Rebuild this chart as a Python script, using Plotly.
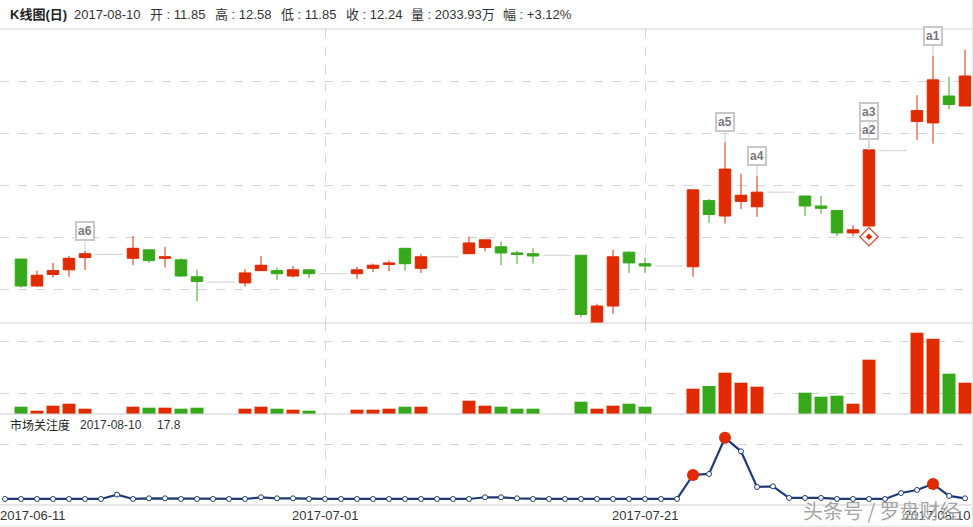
#!/usr/bin/env python3
"""K-line chart with volume and market attention panels, 2017-06-11 to 2017-08-10."""

import pandas as pd
import plotly.graph_objects as go

WIDTH = 973
HEIGHT = 527

RED = "#e02a00"
GREEN = "#36a81a"
NAVY = "#1f3a78"
GRID = "#d4d4d4"
BORDER = "#cfcfcf"
CJK = "Liberation Sans, Noto Sans CJK SC"

# trading days
dates = [
    "2017-06-12", "2017-06-13", "2017-06-14", "2017-06-15", "2017-06-16",
    "2017-06-19", "2017-06-20", "2017-06-21", "2017-06-22", "2017-06-23",
    "2017-06-26", "2017-06-27", "2017-06-28", "2017-06-29", "2017-06-30",
    "2017-07-03", "2017-07-04", "2017-07-05", "2017-07-06", "2017-07-07",
    "2017-07-10", "2017-07-11", "2017-07-12", "2017-07-13", "2017-07-14",
    "2017-07-17", "2017-07-18", "2017-07-19", "2017-07-20", "2017-07-21",
    "2017-07-24", "2017-07-25", "2017-07-26", "2017-07-27", "2017-07-28",
    "2017-07-31", "2017-08-01", "2017-08-02", "2017-08-03", "2017-08-04",
    "2017-08-07", "2017-08-08", "2017-08-09", "2017-08-10",
]
opens = [
    9.86, 9.51, 9.66, 9.72, 9.88,
    9.87, 9.98, 9.87, 9.85, 9.63,
    9.55, 9.71, 9.71, 9.64, 9.72,
    9.67, 9.74, 9.79, 10.00, 9.74,
    9.93, 10.01, 10.02, 9.94, 9.93,
    9.91, 9.03, 9.25, 9.95, 9.80,
    9.76, 10.62, 10.42, 10.61, 10.54,
    10.68, 10.55, 10.49, 10.20, 10.29,
    11.65, 11.63, 11.98, 11.85,
]
closes = [
    9.51, 9.65, 9.71, 9.87, 9.93,
    10.00, 9.84, 9.89, 9.64, 9.57,
    9.68, 9.78, 9.67, 9.72, 9.67,
    9.72, 9.78, 9.81, 9.80, 9.89,
    10.07, 10.11, 9.94, 9.92, 9.90,
    9.14, 9.25, 9.89, 9.81, 9.77,
    10.76, 10.44, 11.03, 10.69, 10.73,
    10.55, 10.52, 10.20, 10.24, 11.28,
    11.79, 12.19, 11.87, 12.24,
]
highs = [
    9.86, 9.71, 9.81, 9.90, 9.97,
    10.16, 9.98, 10.02, 9.87, 9.72,
    9.73, 9.90, 9.75, 9.77, 9.72,
    9.76, 9.80, 9.84, 10.00, 9.93,
    10.15, 10.11, 10.09, 9.97, 10.00,
    9.91, 9.28, 9.98, 9.96, 9.88,
    10.76, 10.64, 11.38, 10.97, 10.94,
    10.68, 10.68, 10.49, 10.30, 11.28,
    11.99, 12.50, 12.23, 12.58,
]
lows = [
    9.49, 9.50, 9.62, 9.63, 9.72,
    9.78, 9.81, 9.75, 9.63, 9.31,
    9.50, 9.71, 9.59, 9.62, 9.61,
    9.60, 9.69, 9.70, 9.71, 9.68,
    9.93, 9.96, 9.78, 9.80, 9.80,
    9.10, 9.03, 9.15, 9.68, 9.68,
    9.63, 10.33, 10.32, 10.51, 10.41,
    10.42, 10.45, 10.16, 10.16, 10.29,
    11.41, 11.36, 11.81, 11.85,
]
volumes = [
    475, 215, 540, 670, 345,
    475, 410, 410, 345, 410,
    345, 475, 345, 280, 215,
    280, 280, 345, 475, 475,
    865, 540, 475, 345, 345,
    800, 345, 540, 670, 475,
    1645, 1820, 2685, 2034, 1775,
    1385, 1125, 1190, 670, 3530,
    5285, 4895, 2620, 2034,
]

# non trading days, drawn flat at the previous close
gap_dates = [
    ["2017-06-17", "2017-06-18"], ["2017-06-24", "2017-06-25"],
    ["2017-07-01", "2017-07-02"], ["2017-07-08", "2017-07-09"],
    ["2017-07-15", "2017-07-16"], ["2017-07-22", "2017-07-23"],
    ["2017-07-29", "2017-07-30"], ["2017-08-05", "2017-08-06"],
]
gap_prices = [9.92, 9.56, 9.67, 9.89, 9.91, 9.77, 10.73, 11.27]

# market attention, every calendar day from 2017-06-11
attention = [
    16.9, 16.9, 16.9, 16.9, 16.9, 16.9, 16.9, 22.8, 16.9, 17.8,
    17.8, 16.9, 16.9, 16.9, 16.9, 16.9, 19.2, 17.8, 17.8, 16.9,
    16.9, 16.9, 16.9, 16.9, 16.9, 16.9, 16.9, 16.9, 16.9, 16.9,
    19.2, 19.2, 17.8, 16.9, 16.9, 16.9, 16.9, 16.9, 16.9, 16.9,
    16.9, 16.9, 16.9, 49.5, 50.9, 100.0, 81.7, 33.2, 34.1, 18.3,
    18.3, 18.3, 16.9, 16.9, 16.9, 16.9, 25.0, 29.1, 37.3, 21.0,
    17.8,
]
attention_dates = pd.date_range("2017-06-11", "2017-08-10").strftime("%Y-%m-%d").tolist()
attention_marked = ["2017-07-24", "2017-07-26", "2017-08-08"]

# labels on the candles
signal_names = ["a1", "a2", "a3", "a4", "a5", "a6"]
signal_dates = ["2017-08-08", "2017-08-04", "2017-08-04", "2017-07-28", "2017-07-26", "2017-06-16"]
diamond_date = "2017-08-04"
diamond_price = 10.15

x_tick_dates = ["2017-07-01", "2017-07-21"]
x_labels = ["2017-06-11", "2017-07-01", "2017-07-21", "2017-08-10"]


def px_to_date(px):
    # x axis runs 16 px per day with 2017-06-11 at x=5
    return pd.Timestamp("2017-06-11") + pd.Timedelta(days=(px - 5) / 16)


def y_domain(top, bottom):
    return [1 - bottom / HEIGHT, 1 - top / HEIGHT]


def header_text(fig, x, y, text, size=13, color="#333333"):
    # annotations carry about 2 px of padding on the left
    fig.add_annotation(
        xref="paper", yref="paper", x=(x - 2) / WIDTH, y=1 - y / HEIGHT,
        text=text, showarrow=False, xanchor="left", yanchor="middle",
        font=dict(family=CJK, size=size, color=color),
    )


fig = go.Figure()

fig.add_trace(go.Candlestick(
    x=dates, open=opens, high=highs, low=lows, close=closes,
    increasing=dict(line=dict(color=RED, width=1), fillcolor=RED),
    decreasing=dict(line=dict(color=GREEN, width=1), fillcolor=GREEN),
    whiskerwidth=0, xaxis="x", yaxis="y",
))

for days, price in zip(gap_dates, gap_prices):
    # stretch the flat line out towards the neighbouring candles
    fig.add_trace(go.Scatter(
        x=[pd.Timestamp(days[0]) - pd.Timedelta(hours=9), pd.Timestamp(days[1]) + pd.Timedelta(hours=9)],
        y=[price, price], mode="lines", line=dict(color="#d0d0d0", width=1),
        xaxis="x", yaxis="y",
    ))

fig.add_trace(go.Scatter(
    x=[diamond_date], y=[diamond_price], mode="markers",
    marker=dict(symbol="diamond-open", size=14, color="#e0402a", line=dict(width=1.2)),
    xaxis="x", yaxis="y",
))
fig.add_trace(go.Scatter(
    x=[diamond_date], y=[diamond_price], mode="markers",
    marker=dict(symbol="diamond", size=5, color="#e02a00"),
    xaxis="x", yaxis="y",
))

fig.add_trace(go.Bar(
    x=dates, y=volumes,
    marker=dict(color=[RED if c >= o else GREEN for o, c in zip(opens, closes)], line_width=0),
    xaxis="x", yaxis="y2",
))

fig.add_trace(go.Scatter(
    x=attention_dates, y=attention, mode="lines+markers",
    line=dict(color=NAVY, width=2.2),
    marker=dict(size=5, color="white", line=dict(color=NAVY, width=1)),
    xaxis="x", yaxis="y3",
))
fig.add_trace(go.Scatter(
    x=attention_marked,
    y=[attention[attention_dates.index(d)] for d in attention_marked],
    mode="markers", marker=dict(size=12, color=RED),
    xaxis="x", yaxis="y3",
))

# labels sit on a short stem above the candle high
stems = {"a3": -38}
for name, day in zip(signal_names, signal_dates):
    fig.add_annotation(
        x=day, y=highs[dates.index(day)], xref="x", yref="y", text=f"<b>{name}</b>",
        showarrow=True, arrowhead=0, arrowcolor="#cccccc", arrowwidth=1,
        ax=0, ay=stems.get(name, -20),
        bgcolor="white", bordercolor="#c8c8c8", borderwidth=2, borderpad=1,
        font=dict(family="Liberation Sans", size=12, color="#777777"),
    )

header_text(fig, 10, 14, "<b>K线图(日)</b>", color="#222222")
header_text(fig, 74, 14, "2017-08-10")
header_text(fig, 150, 14, "开 : 11.85")
header_text(fig, 215, 14, "高 : 12.58")
header_text(fig, 281, 14, "低 : 11.85")
header_text(fig, 346, 14, "收 : 12.24")
header_text(fig, 411, 14, "量 : 2033.93万")
header_text(fig, 503, 14, "幅 : +3.12%")
header_text(fig, 10, 425, "市场关注度", size=12, color="#222222")
header_text(fig, 80, 425, "2017-08-10", size=12)
header_text(fig, 157, 425, "17.8", size=12)

for i, label in enumerate(x_labels):
    if i == 0:
        x, xref, anchor = -2 / WIDTH, "paper", "left"
    elif i == len(x_labels) - 1:
        x, xref, anchor = 1, "paper", "right"
    else:
        x, xref, anchor = label, "x", "center"
    fig.add_annotation(
        x=x, xref=xref, y=1 - 515 / HEIGHT, yref="paper", text=label, showarrow=False,
        xanchor=anchor, yanchor="middle",
        font=dict(family=CJK, size=13, color="#333333"),
    )

# watermark over the last date label
fig.add_annotation(
    xref="paper", yref="paper", x=962 / WIDTH, y=1 - 510 / HEIGHT, text="头条号 / 罗盘财经",
    showarrow=False, xanchor="right", yanchor="middle",
    font=dict(family="Noto Sans CJK SC", size=20, color="rgba(140,140,140,0.8)",
              shadow="1px 1px 1px white"),
)

for y_px in [29, 323, 414, 505]:
    fig.add_shape(type="line", xref="paper", yref="paper", x0=0, x1=1,
                  y0=1 - y_px / HEIGHT, y1=1 - y_px / HEIGHT, line=dict(color=BORDER, width=1))
fig.add_shape(type="line", xref="paper", yref="paper", x0=972.5 / WIDTH, x1=972.5 / WIDTH,
              y0=0, y1=1, line=dict(color="#e8e8e8", width=1))
fig.add_shape(type="rect", xref="paper", yref="paper", x0=0, x1=1,
              y0=0, y1=1 - 525 / HEIGHT, fillcolor="#eff1f4", line_width=0)

grid_axis = dict(
    showticklabels=False, ticks="", zeroline=False, showline=False, fixedrange=True,
    showgrid=True, gridcolor=GRID, griddash="dash", gridwidth=1,
)

fig.update_layout(
    width=WIDTH,
    height=HEIGHT,
    margin=dict(l=0, r=0, t=0, b=0),
    paper_bgcolor="white",
    plot_bgcolor="white",
    showlegend=False,
    bargap=0.19,
    boxgap=0.28,
    boxgroupgap=0,
    xaxis=dict(
        range=[px_to_date(0), px_to_date(WIDTH)], tickvals=x_tick_dates, type="date",
        rangeslider=dict(visible=False), showticklabels=False, ticks="",
        showgrid=True, gridcolor=GRID, griddash="dash", gridwidth=1,
        zeroline=False, showline=False, domain=[0, 1],
    ),
    yaxis=dict(range=[9.029, 12.851], tickvals=[9.471, 10.147, 10.823, 11.499, 12.175],
               domain=y_domain(29, 323), **grid_axis),
    yaxis2=dict(range=[0, 5915], tickvals=[1365, 4745], domain=y_domain(323, 414), **grid_axis),
    yaxis3=dict(range=[8.7, 132.4], tickvals=[90.3], domain=y_domain(414, 505), **grid_axis),
)

# the reference fills the window edge to edge
fig.write_html("out.html", config={"displayModeBar": False},
               post_script="document.body.style.margin = '0';")
